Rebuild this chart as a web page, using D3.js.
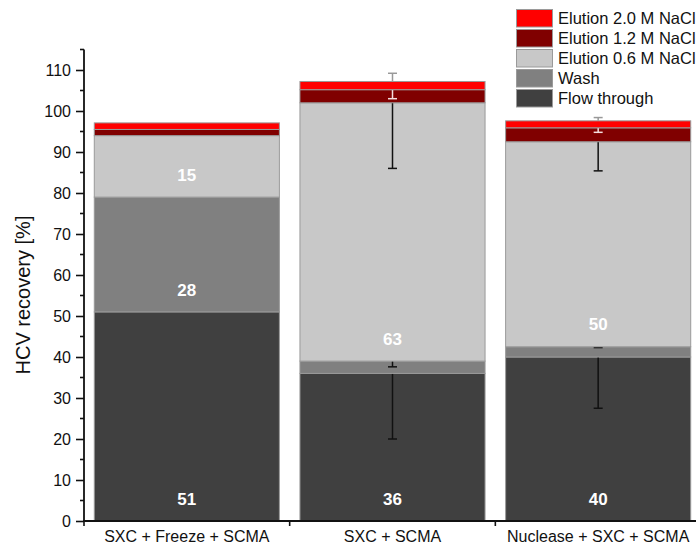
<!DOCTYPE html>
<html>
<head>
<meta charset="utf-8">
<script src="https://cdn.jsdelivr.net/npm/d3@7"></script>
<style>
  html, body { margin: 0; padding: 0; background: #fff; }
  svg { display: block; font-family: "Liberation Sans", Arial, sans-serif; }
</style>
</head>
<body>
<svg id="chart" width="696" height="545"></svg>
<script>
// Purification strategies (x categories)
const categories = ["SXC + Freeze + SCMA", "SXC + SCMA", "Nuclease + SXC + SCMA"];

// Fractions, bottom of the stack first
const fractions = ["Flow through", "Wash", "Elution 0.6 M NaCl", "Elution 1.2 M NaCl", "Elution 2.0 M NaCl"];

// Recovery per fraction [%], one value per category
const flowThrough = [51, 36, 40];
const wash        = [28, 3, 2.5];
const elution06   = [15, 63, 50];
const elution12   = [1.5, 3.2, 3.4];
const elution20   = [1.6, 2.0, 1.7];

// Standard deviations per fraction [%]
const flowThroughErr = [0, 16, 12.5];
const washErr        = [0, 1.4, 0.2];
const elution06Err   = [0, 16, 7.1];
const elution12Err   = [0, 2.2, 1.1];
const elution20Err   = [0, 2.0, 0.8];

// Axis ticks
const yTicks = [0, 10, 20, 30, 40, 50, 60, 70, 80, 90, 100, 110];
const yMinorTicks = [5, 15, 25, 35, 45, 55, 65, 75, 85, 95, 105, 115];

const seriesValues = [flowThrough, wash, elution06, elution12, elution20];
const seriesErrors = [flowThroughErr, washErr, elution06Err, elution12Err, elution20Err];
const fillColors = ["#404040", "#808080", "#c8c8c8", "#800000", "#ff0000"];
const errColors  = ["#111111", "#111111", "#111111", "#f4dede", "#999999"];
// lower fractions show the minus error, the top fraction the plus error
const errDir     = [-1, -1, -1, -1, 1];

const svg = d3.select("#chart");
const x = d3.scaleBand().domain(categories).range([84, 701]).paddingInner(0.1).paddingOuter(0.05);
const y = d3.scaleLinear().domain([0, 115]).range([521, 49.5]);

// Stack the fractions
const rows = categories.map((c, i) => {
  const r = { category: c };
  fractions.forEach((f, k) => { r[f] = seriesValues[k][i]; });
  return r;
});
const stacked = d3.stack().keys(fractions)(rows);

const plot = svg.append("g");
stacked.forEach((layer, k) => {
  const g = plot.append("g");
  g.selectAll("rect").data(layer).join("rect")
    .attr("x", d => x(d.data.category))
    .attr("width", x.bandwidth())
    .attr("y", d => y(d[1]))
    .attr("height", d => y(d[0]) - y(d[1]))
    .attr("fill", fillColors[k])
    .attr("stroke", "#9a9a9a")
    .attr("stroke-width", 1);

  // error bars for this fraction, drawn before the next fraction covers them
  const eg = plot.append("g").attr("stroke", errColors[k]).attr("stroke-width", 1.5);
  layer.forEach((d, i) => {
    const e = seriesErrors[k][i];
    if (!e) return;
    const cx = x(d.data.category) + x.bandwidth() / 2;
    const y0 = y(d[1]);
    const y1 = y(d[1] + errDir[k] * e);
    eg.append("line").attr("x1", cx).attr("x2", cx).attr("y1", y0).attr("y2", y1);
    eg.append("line").attr("x1", cx - 4.5).attr("x2", cx + 4.5).attr("y1", y1).attr("y2", y1);
  });
});

// Value labels for the main fractions
stacked.forEach((layer, k) => {
  layer.forEach(d => {
    const v = d[1] - d[0];
    if (v < 10) return;
    plot.append("text")
      .attr("x", x(d.data.category) + x.bandwidth() / 2)
      .attr("y", y(d[0]) - 16.4)
      .attr("text-anchor", "middle")
      .attr("fill", "#ffffff")
      .attr("font-weight", "bold")
      .attr("font-size", "17px")
      .text(d3.format(".0f")(v));
  });
});

// Y axis
const yAxis = svg.append("g").attr("transform", "translate(84,0)");
yAxis.call(d3.axisLeft(y).tickValues(yTicks).tickSize(8).tickPadding(5).tickFormat(d3.format("d")));
yAxis.selectAll(".tick text").attr("font-size", "16px").attr("fill", "#111").attr("font-family", "Liberation Sans, Arial, sans-serif");
yAxis.select(".domain").remove();
yAxis.selectAll(".tick line").attr("stroke", "#111").attr("stroke-width", 1.6);
yAxis.selectAll(".minor").data(yMinorTicks).join("line")
  .attr("class", "minor")
  .attr("x1", -4).attr("x2", 0)
  .attr("y1", d => y(d)).attr("y2", d => y(d))
  .attr("stroke", "#111").attr("stroke-width", 1.6);
yAxis.append("line").attr("x1", 0).attr("x2", 0).attr("y1", y(115)).attr("y2", y(0) + 1)
  .attr("stroke", "#111").attr("stroke-width", 1.8);

// X axis
const xAxis = svg.append("g").attr("transform", "translate(0,521)");
xAxis.append("line").attr("x1", 83).attr("x2", 701).attr("y1", 0).attr("y2", 0)
  .attr("stroke", "#111").attr("stroke-width", 1.8);
const bounds = categories.map(c => x(c) - x.step() * x.paddingInner() / 2);
bounds[0] = 84;
bounds.push(701);
xAxis.selectAll(".bt").data(bounds).join("line")
  .attr("class", "bt")
  .attr("x1", d => d).attr("x2", d => d).attr("y1", 0).attr("y2", 5)
  .attr("stroke", "#111").attr("stroke-width", 1.6);
xAxis.selectAll(".cl").data(categories).join("text")
  .attr("class", "cl")
  .attr("x", d => x(d) + x.bandwidth() / 2)
  .attr("y", 21)
  .attr("text-anchor", "middle")
  .attr("font-size", "16px")
  .attr("fill", "#111")
  .text(d => d);

// Y axis title
svg.append("text")
  .attr("transform", "translate(30,295) rotate(-90)")
  .attr("text-anchor", "middle")
  .attr("font-size", "20px")
  .attr("fill", "#111")
  .text("HCV recovery [%]");

// Legend, top fraction first
const legendItems = fractions.map((f, k) => ({ name: f, color: fillColors[k] })).reverse();
const legend = svg.append("g");
legendItems.forEach((it, i) => {
  const yy = 9.5 + i * 20;
  legend.append("rect").attr("x", 516.5).attr("y", yy).attr("width", 36).attr("height", 17.5)
    .attr("fill", it.color).attr("stroke", "#9a9a9a").attr("stroke-width", 1);
  legend.append("text").attr("x", 558).attr("y", yy + 14.5)
    .attr("font-size", "16.5px").attr("fill", "#111").text(it.name);
});
</script>
</body>
</html>
